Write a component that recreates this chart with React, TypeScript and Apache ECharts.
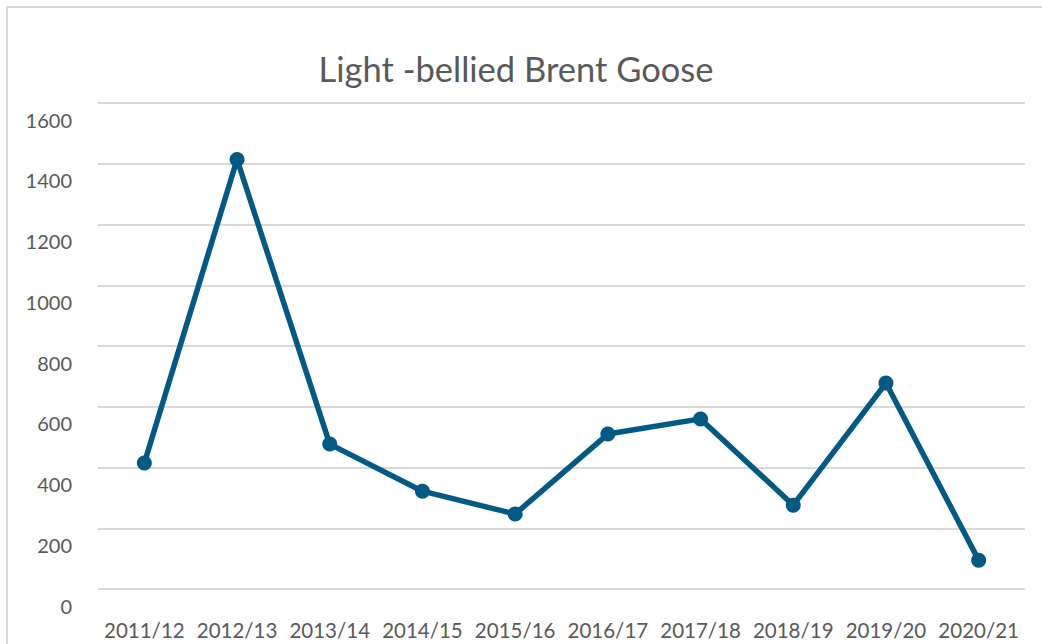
import React, { useEffect, useRef } from "react";
import * as echarts from "echarts";

const categories = ["2011/12", "2012/13", "2013/14", "2014/15", "2015/16", "2016/17", "2017/18", "2018/19", "2019/20", "2020/21"];
const counts = [415, 1414, 477, 322, 247, 510, 560, 276, 678, 95];
const titleText = "Light -bellied Brent Goose";
const yMin = 0;
const yMax = 1600;
const yStep = 200;

export default function App() {
  const ref = useRef<HTMLDivElement>(null);
  useEffect(() => {
    if (!ref.current) return;
    const chart = echarts.init(ref.current, undefined, { renderer: "svg" });
    const font = "Lato, 'Open Sans', sans-serif";
    chart.setOption({
      animation: false,
      backgroundColor: "#ffffff",
      graphic: [
        {
          type: "rect",
          shape: { x: 7, y: 7, width: 1200, height: 800 },
          style: { fill: "none", stroke: "#d9d9d9", lineWidth: 2 },
          silent: true,
          z: -1,
        },
        {
          type: "text",
          x: 516,
          y: 68,
          style: {
            text: titleText,
            fill: "#595959",
            font: `34.5px ${font}`,
            textAlign: "center",
            textVerticalAlign: "middle",
          },
        },
      ],
      grid: { left: 98, right: 17, top: 103, bottom: 55, containLabel: false },
      xAxis: {
        type: "category",
        data: categories,
        boundaryGap: true,
        axisLine: { show: false },
        axisTick: { show: false },
        axisLabel: {
          color: "#595959",
          fontSize: 20.5,
          fontFamily: font,
          margin: 30,
          lineHeight: 22,
          interval: 0,
        },
      },
      yAxis: {
        type: "value",
        min: yMin,
        max: yMax,
        interval: yStep,
        axisLine: { show: false },
        axisTick: { show: false },
        splitLine: { lineStyle: { color: "#d9d9d9", width: 2 } },
        axisLabel: {
          color: "#595959",
          fontSize: 20,
          fontFamily: font,
          margin: 26,
          verticalAlign: "top",
          lineHeight: 33,
          formatter: (v: number) => String(v),
        },
      },
      series: [
        {
          type: "line",
          data: counts,
          symbol: "circle",
          symbolSize: 15,
          lineStyle: { color: "#005a85", width: 5.5 },
          itemStyle: { color: "#005a85" },
        },
      ],
    });
    return () => chart.dispose();
  }, []);
  return <div ref={ref} style={{ position: "absolute", left: 0, top: 0, width: 1042, height: 644 }} />;
}
